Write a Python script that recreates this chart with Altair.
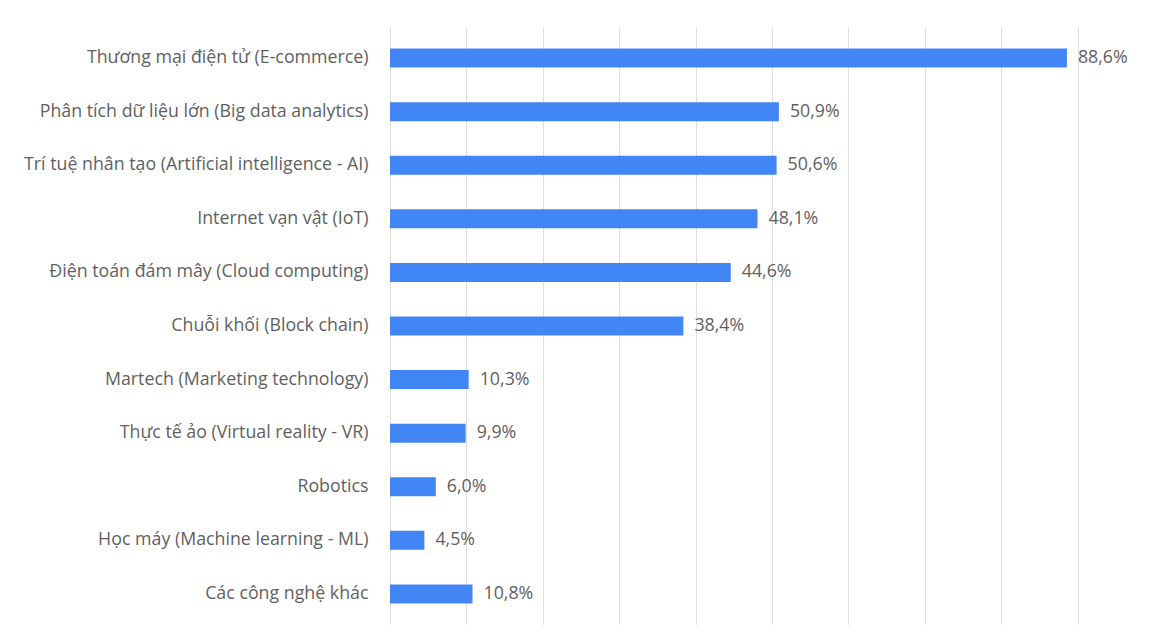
import altair as alt
import pandas as pd

categories = [
    "Thương mại điện tử (E-commerce)",
    "Phân tích dữ liệu lớn (Big data analytics)",
    "Trí tuệ nhân tạo (Artificial intelligence - AI)",
    "Internet vạn vật (IoT)",
    "Điện toán đám mây (Cloud computing)",
    "Chuỗi khối (Block chain)",
    "Martech (Marketing technology)",
    "Thực tế ảo (Virtual reality - VR)",
    "Robotics",
    "Học máy (Machine learning - ML)",
    "Các công nghệ khác",
]
values = [88.6, 50.9, 50.6, 48.1, 44.6, 38.4, 10.3, 9.9, 6.0, 4.5, 10.8]
labels = [f"{v:.1f}".replace(".", ",") + "%" for v in values]

df = pd.DataFrame({"cat": categories, "val": values, "lab": labels})

FONT = "Open Sans"
GRAY = "#5f5f5f"

x = alt.X("val:Q", scale=alt.Scale(domain=[0, 100], nice=False),
          axis=alt.Axis(values=list(range(0, 101, 10)), labels=False, ticks=False,
                        domain=False, title=None, grid=True, gridColor="#dedede",
                        gridWidth=1))
y = alt.Y("cat:N", sort=categories,
          scale=alt.Scale(paddingInner=0.64, paddingOuter=0.4),
          axis=alt.Axis(title=None, ticks=False, domain=False, labelPadding=22,
                        labelFontSize=17.8, labelColor=GRAY, labelFont=FONT,
                        labelLimit=400))

bars = alt.Chart(df).mark_bar(color="#4285F4", size=19).encode(x=x, y=y)
text = alt.Chart(df).mark_text(align="left", baseline="middle", dx=11,
                               fontSize=17.8, color=GRAY, font=FONT).encode(
    x="val:Q", y=alt.Y("cat:N", sort=categories), text="lab:N")

chart = (bars + text).properties(
    width=764, height=598,
    autosize=alt.AutoSizeParams(type="none"),
    padding={"left": 382, "top": 19, "right": 0, "bottom": 0},
    background="white",
).configure_view(stroke=None)

chart.save("out.html", embed_options={"renderer": "svg", "actions": False})
